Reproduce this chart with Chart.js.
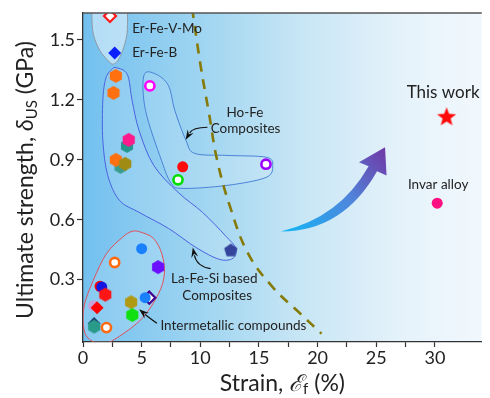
<!DOCTYPE html>
<html>
<head>
<meta charset="utf-8">
<script src="https://cdn.jsdelivr.net/npm/chart.js@4.4.0/dist/chart.umd.min.js"></script>
<style>
  body { margin: 0; background: #fff; }
  #wrap { width: 490px; height: 398px; position: relative; }
</style>
</head>
<body>
<div id="wrap"><canvas id="strengthChart"></canvas></div>
<script>
const FONT = 'Lato, "Open Sans", sans-serif';

// strain (%) and ultimate strength (GPa)
const erFeStrain = [2.3, 2.7];
const erFeStrength = [1.62, 1.435];
const erFeMarks = ['diaOpen #ff1a1a', 'dia #0a1eff'];

const laFeSiStrain = [2.8, 2.6, 3.75, 3.9, 3.2, 2.8, 3.6, 12.6];
const laFeSiStrength = [1.32, 1.235, 0.97, 1.0, 0.865, 0.90, 0.88, 0.446];
const laFeSiMarks = ['hex #ff7010', 'hex #ff7010', 'hex #23978c', 'hex #ff1a8c', 'hex #3a9c8c',
                     'hex #ff7010', 'hex #a08c14', 'pent #34449c'];

const hoFeStrain = [5.7, 8.5, 8.1, 15.6];
const hoFeStrength = [1.27, 0.865, 0.80, 0.878];
const hoFeMarks = ['ring #ff00ff', 'dot #ff0a0a', 'ring #00dd00', 'ring #9b00ff'];

const interStrain = [5.0, 2.7, 6.4, 1.45, 1.6, 1.9, 4.1, 5.65, 5.3, 0.9, 1.2, 4.2, 0.95, 0.95, 2.0];
const interStrength = [0.455, 0.386, 0.363, 0.267, 0.263, 0.225, 0.187, 0.21, 0.21, 0.17, 0.16, 0.123, 0.08, 0.065, 0.06];
const interMarks = ['dot #1a80ff', 'ring #ff6a10', 'hex #6a10ff', 'dot #ff0000', 'dot #1515e0', 'hex #ff1515',
                    'hex #b09a14', 'diaOpen #400090', 'dot #1a80ff', 'dot #c8a0d8', 'dia #ff0000', 'hex #10e010',
                    'dia #1e3d70', 'hex #2a9a8a', 'ring #ff6a10'];

const thisWorkStrain = [31.0];
const thisWorkStrength = [1.113];
const invarStrain = [30.2];
const invarStrength = [0.683];

// dashed boundary
const boundaryStrain = [9.3, 10.05, 10.75, 11.44, 12.55, 14.08, 16.17, 18.53, 20.33];
const boundaryStrength = [1.66, 1.363, 1.13, 0.897, 0.663, 0.43, 0.263, 0.13, 0.03];

// enclosing outlines, [strain, strength]
const erFeOutline = [[0.72, 1.75], [0.75, 1.63], [0.88, 1.53], [1.44, 1.447], [2.28, 1.388], [2.6, 1.38],
                     [2.97, 1.397], [3.38, 1.447], [3.75, 1.53], [3.8, 1.63], [3.82, 1.75], [2.3, 1.85]];
const laFeSiOutline = [[2.86, 1.361], [3.78, 1.327], [4.19, 1.197], [4.78, 1.047], [6.03, 0.872], [8.11, 0.737],
                       [10.19, 0.637], [12.11, 0.522], [13.03, 0.457], [12.78, 0.407], [11.61, 0.402], [9.61, 0.462],
                       [7.28, 0.557], [4.78, 0.637], [3.11, 0.697], [2.11, 0.822], [1.69, 0.997], [1.69, 1.197],
                       [1.94, 1.307], [2.44, 1.352]];
const hoFeOutline = [[5.19, 1.322], [5.33, 1.147], [6.69, 0.897], [7.53, 0.782], [8.53, 0.757], [12.28, 0.772],
                     [15.61, 0.812], [16.17, 0.872], [15.61, 0.913], [12.28, 0.922], [9.53, 0.932], [8.78, 0.997],
                     [7.83, 1.147], [7.28, 1.272], [6.17, 1.33]];
const interOutline = [[4.92, 0.538], [6.0, 0.507], [6.72, 0.43], [6.94, 0.33], [6.44, 0.23], [5.05, 0.107],
                      [3.11, 0.017], [1.69, -0.023], [0.44, 0.007], [0.03, 0.072], [0.11, 0.172], [0.88, 0.297],
                      [2.0, 0.43], [3.38, 0.513], [4.19, 0.542]];

// big trend arrow: tail, lower ctrl, lower end, right wing, tip, left wing, upper end, upper ctrl
const trendArrow = [[16.86, 0.5415], [22.15, 0.54], [25.07, 0.8425], [25.88, 0.8215], [25.75, 0.963],
                    [23.53, 0.888], [24.35, 0.8675], [21.85, 0.6085]];
// small pointer arrows: start, ctrl, tip
const pointerArrows = [
  [[10.61, 1.063], [9.36, 1.062], [8.75, 1.0]],
  [[10.88, 0.355], [9.69, 0.3665], [9.36, 0.4615]],
  [[6.3, 0.0815], [5.61, 0.1115], [4.78, 0.1515]]
];

const notes = [
  { text: 'Er-Fe-V-Mo', at: [4.19, 1.555], align: 'left', size: 13.5 },
  { text: 'Er-Fe-B', at: [4.19, 1.435], align: 'left', size: 13.5 },
  { text: 'Ho-Fe', at: [13.8, 1.135], align: 'center', size: 13.5 },
  { text: 'Composites', at: [13.86, 1.058], align: 'center', size: 13.5 },
  { text: 'La-Fe-Si based', at: [11.19, 0.305], align: 'center', size: 13.5 },
  { text: 'Composites', at: [11.44, 0.222], align: 'center', size: 13.5 },
  { text: 'Intermetallic compounds', at: [6.6, 0.068], align: 'left', size: 13.5 },
  { text: 'This work', at: [30.7, 1.235], align: 'center', size: 17 },
  { text: 'Invar alloy', at: [30.28, 0.775], align: 'center', size: 13.5 }
];

function polygon(kind, col) {
  const star = kind === 'star';
  const r = star ? 10 : 7;
  const n = star ? 10 : (kind === 'hex' ? 6 : 5);
  const c = document.createElement('canvas');
  c.width = c.height = Math.ceil(r * 2 + 2);
  const g = c.getContext('2d');
  const m = c.width / 2;
  g.beginPath();
  for (let i = 0; i < n; i++) {
    const a = -Math.PI / 2 + i * 2 * Math.PI / n;
    const rr = star && i % 2 ? 4.2 : r;
    g.lineTo(m + rr * Math.cos(a), m + rr * Math.sin(a));
  }
  g.closePath();
  g.fillStyle = col;
  g.fill();
  return c;
}

function markerProps(marks) {
  const out = { pointStyle: [], pointBackgroundColor: [], pointBorderColor: [], pointRadius: [], pointBorderWidth: [] };
  marks.forEach(m => {
    const [kind, col] = m.split(' ');
    let st = 'circle', fill = col, r = 5.5, w = 0;
    if (kind === 'ring') { fill = '#ffffff'; r = 4.6; w = 2.6; }
    else if (kind === 'dia') { st = 'rectRot'; r = 6.5; }
    else if (kind === 'diaOpen') { st = 'rectRot'; fill = '#ffffff'; r = 6; w = 2.2; }
    else if (kind !== 'dot') { st = polygon(kind, col); r = 7; }
    out.pointStyle.push(st);
    out.pointBackgroundColor.push(fill);
    out.pointBorderColor.push(col);
    out.pointRadius.push(r);
    out.pointBorderWidth.push(w);
  });
  return out;
}

const pairs = (xs, ys) => xs.map((x, i) => ({ x, y: ys[i] }));

function pointSet(label, xs, ys, marks) {
  return Object.assign({ label, data: pairs(xs, ys), showLine: false, pointHoverRadius: 0 }, markerProps(marks));
}

function closedSpline(ctx, pts) {
  const n = pts.length;
  ctx.moveTo(pts[0][0], pts[0][1]);
  for (let i = 0; i < n; i++) {
    const p0 = pts[(i - 1 + n) % n], p1 = pts[i], p2 = pts[(i + 1) % n], p3 = pts[(i + 2) % n];
    ctx.bezierCurveTo(p1[0] + (p2[0] - p0[0]) / 6, p1[1] + (p2[1] - p0[1]) / 6,
                      p2[0] - (p3[0] - p1[0]) / 6, p2[1] - (p3[1] - p1[1]) / 6, p2[0], p2[1]);
  }
  ctx.closePath();
}

function drawRich(ctx, parts, cx, cy) {
  let total = 0;
  parts.forEach(p => { ctx.font = p.font; p.w = ctx.measureText(p.t).width; total += p.w; });
  let x = cx - total / 2;
  ctx.textAlign = 'left';
  ctx.textBaseline = 'middle';
  parts.forEach(p => { ctx.font = p.font; ctx.fillText(p.t, x, cy + (p.dy || 0)); x += p.w; });
}

const decor = {
  id: 'decor',
  beforeDraw(chart) {
    const { ctx, chartArea: a } = chart;
    const g = ctx.createLinearGradient(a.left, 0, a.right, 0);
    g.addColorStop(0, '#72c0ef');
    g.addColorStop(0.3, '#a0d5f1');
    g.addColorStop(0.55, '#c8e6f5');
    g.addColorStop(0.8, '#e5f2fa');
    g.addColorStop(1, '#f1f8fd');
    ctx.save();
    ctx.fillStyle = g;
    ctx.fillRect(a.left, a.top, a.right - a.left, a.bottom - a.top);
    ctx.restore();
  },
  beforeDatasetsDraw(chart) {
    const { ctx, chartArea: a, scales: { x, y } } = chart;
    const toPx = p => [x.getPixelForValue(p[0]), y.getPixelForValue(p[1])];
    ctx.save();
    ctx.beginPath();
    ctx.rect(a.left, a.top, a.right - a.left, a.bottom - a.top);
    ctx.clip();
    [[erFeOutline, 'rgba(232,244,252,0.55)', '#8e9aa6'],
     [laFeSiOutline, 'rgba(255,255,255,0.13)', '#4a62e0'],
     [hoFeOutline, 'rgba(255,255,255,0.13)', '#4a82d8'],
     [interOutline, 'rgba(255,255,255,0.15)', '#e0505c']].forEach(([pts, fill, line]) => {
      ctx.beginPath();
      closedSpline(ctx, pts.map(toPx));
      ctx.fillStyle = fill;
      ctx.fill();
      ctx.strokeStyle = line;
      ctx.lineWidth = 1;
      ctx.stroke();
    });
    ctx.restore();
  },
  afterDatasetsDraw(chart) {
    const { ctx, chartArea: a, scales: { x, y } } = chart;
    const toPx = p => [x.getPixelForValue(p[0]), y.getPixelForValue(p[1])];
    ctx.save();

    // trend arrow
    const [t, lc, le, wr, tip, wl, ue, uc] = trendArrow.map(toPx);
    const g = ctx.createLinearGradient(t[0], t[1], tip[0], tip[1]);
    g.addColorStop(0, '#12b6f6');
    g.addColorStop(0.55, '#4f86dc');
    g.addColorStop(1, '#7038a6');
    ctx.beginPath();
    ctx.moveTo(t[0], t[1]);
    ctx.quadraticCurveTo(lc[0], lc[1], le[0], le[1]);
    ctx.lineTo(wr[0], wr[1]);
    ctx.lineTo(tip[0], tip[1]);
    ctx.lineTo(wl[0], wl[1]);
    ctx.lineTo(ue[0], ue[1]);
    ctx.quadraticCurveTo(uc[0], uc[1], t[0], t[1]);
    ctx.closePath();
    ctx.fillStyle = g;
    ctx.fill();

    // pointer arrows
    ctx.strokeStyle = '#111';
    ctx.fillStyle = '#111';
    ctx.lineWidth = 1.2;
    pointerArrows.forEach(arr => {
      const [s, c, e] = arr.map(toPx);
      const ang = Math.atan2(e[1] - c[1], e[0] - c[0]);
      const bx = e[0] - 8 * Math.cos(ang), by = e[1] - 8 * Math.sin(ang);
      ctx.beginPath();
      ctx.moveTo(s[0], s[1]);
      ctx.quadraticCurveTo(c[0], c[1], bx, by);
      ctx.stroke();
      ctx.beginPath();
      ctx.moveTo(e[0], e[1]);
      ctx.lineTo(e[0] - 10 * Math.cos(ang) + 3.5 * Math.sin(ang), e[1] - 10 * Math.sin(ang) - 3.5 * Math.cos(ang));
      ctx.lineTo(bx + 1.5 * Math.cos(ang), by + 1.5 * Math.sin(ang));
      ctx.lineTo(e[0] - 10 * Math.cos(ang) - 3.5 * Math.sin(ang), e[1] - 10 * Math.sin(ang) + 3.5 * Math.cos(ang));
      ctx.closePath();
      ctx.fill();
    });

    // labels
    ctx.fillStyle = '#222';
    ctx.textBaseline = 'middle';
    notes.forEach(n => {
      ctx.font = `${n.size}px ${FONT}`;
      ctx.textAlign = n.align;
      const [px, py] = toPx(n.at);
      ctx.fillText(n.text, px, py);
    });

    // top frame line
    ctx.strokeStyle = '#555';
    ctx.lineWidth = 1.5;
    ctx.beginPath();
    ctx.moveTo(a.left, a.top);
    ctx.lineTo(a.right, a.top);
    ctx.stroke();
    ctx.restore();
  },
  afterDraw(chart) {
    const { ctx, chartArea: a } = chart;
    ctx.save();
    ctx.fillStyle = '#222';
    drawRich(ctx, [
      { t: 'Strain, ', font: `23px ${FONT}` },
      { t: 'ℰ', font: `italic 23px ${FONT}` },
      { t: 'f', font: `15px ${FONT}`, dy: 5 },
      { t: ' (%)', font: `23px ${FONT}` }
    ], (a.left + a.right) / 2, 384);
    ctx.translate(26, 180);
    ctx.rotate(-Math.PI / 2);
    drawRich(ctx, [
      { t: 'Ultimate strength, ', font: `23px ${FONT}` },
      { t: 'δ', font: `italic 23px ${FONT}` },
      { t: 'US', font: `15px ${FONT}`, dy: 6 },
      { t: ' (GPa)', font: `23px ${FONT}` }
    ], 0, 0);
    ctx.restore();
  }
};

const keepEvery = step => s => {
  s.ticks = s.ticks.filter(t => Math.abs(t.value / step - Math.round(t.value / step)) < 1e-6);
};

new Chart(document.getElementById('strengthChart'), {
  type: 'scatter',
  data: {
    datasets: [
      pointSet('Er-Fe', erFeStrain, erFeStrength, erFeMarks),
      pointSet('La-Fe-Si', laFeSiStrain, laFeSiStrength, laFeSiMarks),
      pointSet('Ho-Fe', hoFeStrain, hoFeStrength, hoFeMarks),
      pointSet('Intermetallic', interStrain, interStrength, interMarks),
      pointSet('This work', thisWorkStrain, thisWorkStrength, ['star #ff0a0a']),
      pointSet('Invar alloy', invarStrain, invarStrength, ['dot #ff1080']),
      {
        label: 'boundary',
        data: pairs(boundaryStrain, boundaryStrength),
        showLine: true,
        pointRadius: 0,
        borderColor: '#857a08',
        borderWidth: 2.6,
        borderDash: [10, 8],
        tension: 0.4
      }
    ]
  },
  options: {
    responsive: true,
    maintainAspectRatio: false,
    animation: false,
    events: [],
    layout: { padding: { top: 13, right: 0, left: 0, bottom: 0 } },
    plugins: { legend: { display: false }, tooltip: { enabled: false } },
    scales: {
      x: {
        min: 0, max: 34,
        afterFit: s => { s.height = 56; },
        afterBuildTicks: keepEvery(2.5),
        border: { color: '#333', width: 1.3 },
        grid: { drawOnChartArea: false, tickLength: 5, color: '#333', tickWidth: 1.2 },
        ticks: {
          stepSize: 2.5, autoSkip: false, maxRotation: 0, padding: 0, color: '#222',
          font: { family: FONT, size: 18 },
          callback: v => (Math.abs(v % 5) < 1e-6 ? String(v) : '')
        }
      },
      y: {
        min: -0.012, max: 1.635,
        afterFit: s => { s.width = 83; },
        afterBuildTicks: keepEvery(0.3),
        border: { color: '#333', width: 1.3 },
        grid: { drawOnChartArea: false, tickLength: 6, color: '#333', tickWidth: 1.2 },
        ticks: {
          stepSize: 0.3, autoSkip: false, padding: 2, color: '#222',
          font: { family: FONT, size: 18 },
          callback: v => v.toFixed(1)
        }
      }
    }
  },
  plugins: [decor]
});
</script>
</body>
</html>
